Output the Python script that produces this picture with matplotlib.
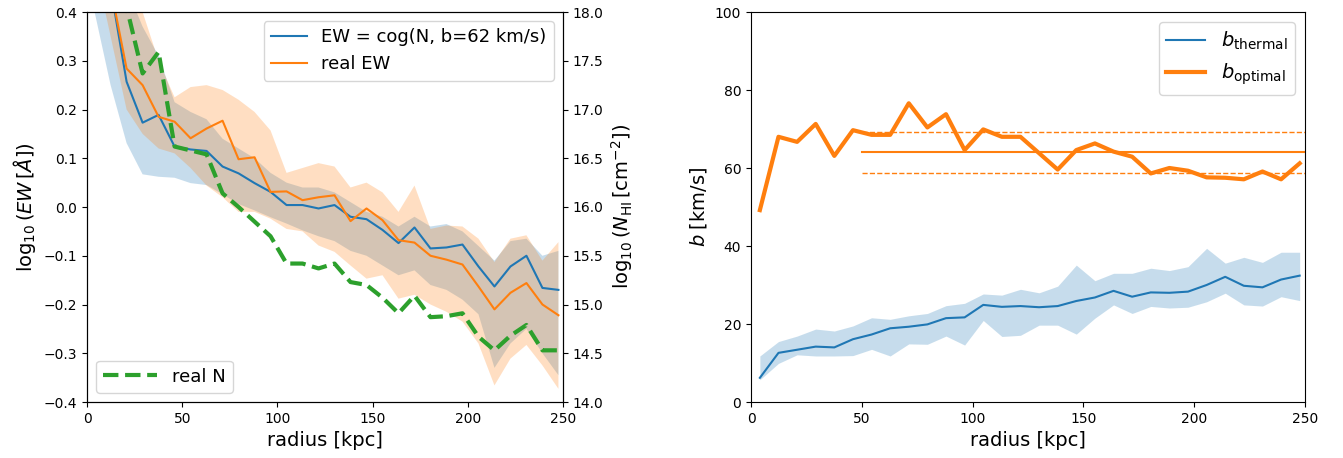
import matplotlib.pyplot as plt
import numpy as np

radius = [4.0, 12.4, 20.8, 29.2, 37.6, 46.0, 54.4, 62.8, 71.2, 79.6,
          88.0, 96.4, 104.8, 113.2, 121.6, 130.0, 138.4, 146.8, 155.2, 163.6,
          172.0, 180.4, 188.8, 197.2, 205.6, 214.0, 222.4, 230.8, 239.2, 247.6]

# left panel
ew_cog = [0.6, 0.45, 0.257, 0.173, 0.189, 0.124, 0.118, 0.115, 0.083, 0.069,
          0.049, 0.031, 0.004, 0.004, -0.003, 0.004, -0.02, -0.025, -0.047, -0.074,
          -0.042, -0.085, -0.083, -0.077, -0.122, -0.163, -0.122, -0.1, -0.166, -0.17]
ew_cog_hi = [0.8, 0.6, 0.45, 0.37, 0.31, 0.215, 0.195, 0.18, 0.14, 0.12,
             0.10, 0.07, 0.05, 0.04, 0.04, 0.03, 0.01, -0.01, -0.02, -0.04,
             -0.02, -0.04, -0.035, -0.05, -0.08, -0.11, -0.07, -0.065, -0.1, -0.09]
ew_cog_lo = [0.4, 0.25, 0.131, 0.067, 0.062, 0.06, 0.049, 0.045, 0.026, 0.006,
             -0.007, -0.021, -0.034, -0.048, -0.06, -0.07, -0.09, -0.1, -0.12, -0.14,
             -0.13, -0.16, -0.17, -0.19, -0.22, -0.33, -0.28, -0.25, -0.3, -0.345]
ew_real = [0.6, 0.45, 0.284, 0.25, 0.185, 0.175, 0.141, 0.161, 0.177, 0.098,
           0.102, 0.031, 0.032, 0.014, 0.02, 0.024, -0.029, -0.003, -0.027, -0.068,
           -0.073, -0.1, -0.108, -0.118, -0.163, -0.21, -0.176, -0.156, -0.2, -0.222]
ew_real_hi = [0.8, 0.6, 0.45, 0.4, 0.3, 0.225, 0.246, 0.25, 0.24, 0.22,
              0.195, 0.157, 0.07, 0.08, 0.09, 0.083, 0.04, 0.05, 0.03, -0.01,
              0.044, -0.045, -0.038, -0.04, -0.065, -0.113, -0.065, -0.058, -0.11, -0.072]
ew_real_lo = [0.5, 0.35, 0.2, 0.15, 0.12, 0.11, 0.08, 0.044, 0.02, -0.01,
              -0.01, -0.024, -0.045, -0.05, -0.079, -0.092, -0.12, -0.147, -0.14, -0.188,
              -0.18, -0.2, -0.215, -0.235, -0.28, -0.366, -0.311, -0.283, -0.325, -0.373]
n_real = [18.6, 18.3, 18.05, 17.37, 17.59, 16.62, 16.58, 16.54, 16.14, 16.0,
          15.85, 15.7, 15.42, 15.42, 15.37, 15.42, 15.23, 15.2, 15.07, 14.91,
          15.09, 14.87, 14.88, 14.91, 14.67, 14.53, 14.68, 14.79, 14.53, 14.53]

# right panel
b_thermal = [6.2, 12.6, 13.4, 14.2, 14.0, 16.1, 17.3, 18.9, 19.3, 19.9,
             21.5, 21.7, 24.9, 24.4, 24.6, 24.3, 24.6, 25.9, 26.8, 28.5,
             27.0, 28.1, 28.0, 28.3, 30.0, 32.1, 29.8, 29.4, 31.4, 32.4]
b_thermal_hi = [11.8, 15.5, 16.9, 18.7, 18.2, 19.5, 21.6, 21.2, 22.1, 22.7,
                24.7, 25.3, 27.7, 27.4, 28.9, 28.0, 29.7, 35.1, 31.1, 33.0,
                33.0, 34.3, 33.7, 34.7, 39.4, 35.6, 37.1, 35.8, 38.4, 38.4]
b_thermal_lo = [5.7, 9.9, 12.1, 11.8, 11.8, 11.9, 13.5, 11.8, 14.9, 14.8,
                16.9, 14.6, 20.9, 16.8, 17.1, 19.7, 19.7, 17.4, 21.5, 24.9,
                22.7, 24.5, 24.1, 24.3, 25.7, 27.9, 24.9, 24.6, 27.0, 26.0]
b_optimal = [49.2, 68.0, 66.7, 71.3, 63.1, 69.7, 68.5, 68.5, 76.6, 70.4,
             73.8, 64.6, 69.9, 68.0, 68.0, 63.8, 59.6, 64.6, 66.3, 64.2,
             62.9, 58.6, 60.0, 59.3, 57.6, 57.5, 57.1, 59.1, 57.1, 61.2]
b_mean, b_plus, b_minus = 64.0, 69.3, 58.6
b_range = [50, 250]

fig = plt.figure(figsize=(13.43, 4.58), dpi=100)
ax = fig.add_axes([87/1343, 1-402/458, 476/1343, 390/458])
ax.fill_between(radius, ew_cog_lo, ew_cog_hi, color='C0', alpha=0.25, lw=0)
ax.fill_between(radius, ew_real_lo, ew_real_hi, color='C1', alpha=0.25, lw=0)
ax.plot(radius, ew_cog, color='C0', label='EW = cog(N, b=62 km/s)')
ax.plot(radius, ew_real, color='C1', label='real EW')
ax.set_xlim(0, 250)
ax.set_ylim(-0.4, 0.4)
ax.set_xlabel('radius [kpc]', fontsize=14)
ax.set_ylabel(r'$\log_{10}(EW\,[\AA])$', fontsize=14)
ax.legend(loc='upper right', fontsize=13)

ax2 = ax.twinx()
ax2.plot(radius, n_real, color='C2', ls='--', lw=3, label='real N')
ax2.set_ylim(14, 18)
ax2.set_ylabel(r'$\log_{10}(N_{\rm HI}\,[\rm cm^{-2}])$', fontsize=14)
ax2.legend(loc='lower left', fontsize=13, handlelength=3)

bx = fig.add_axes([751/1343, 1-402/458, 554/1343, 390/458])
bx.fill_between(radius, b_thermal_lo, b_thermal_hi, color='C0', alpha=0.25, lw=0)
bx.plot(radius, b_thermal, color='C0', label=r'$b_{\rm thermal}$')
bx.plot(radius, b_optimal, color='C1', lw=3, label=r'$b_{\rm optimal}$')
bx.plot(b_range, [b_mean, b_mean], color='C1', lw=1.5)
bx.plot(b_range, [b_plus, b_plus], color='C1', lw=1, ls='--')
bx.plot(b_range, [b_minus, b_minus], color='C1', lw=1, ls='--')
bx.set_xlim(0, 250)
bx.set_ylim(0, 100)
bx.set_xlabel('radius [kpc]', fontsize=14)
bx.set_ylabel(r'$b\;[\rm km/s]$', fontsize=14)
bx.legend(loc='upper right', fontsize=14)

fig.savefig('out.png')
